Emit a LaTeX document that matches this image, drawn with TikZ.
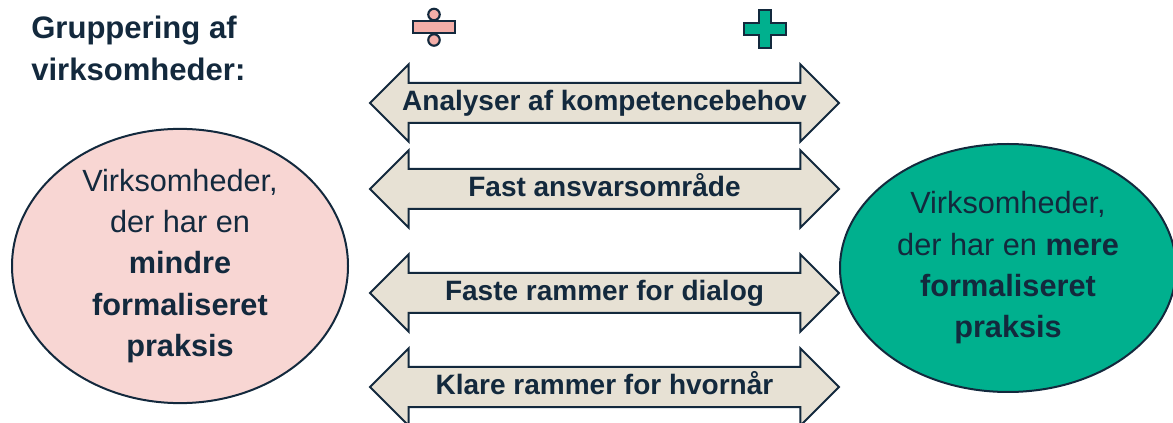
\documentclass[tikz,border=0pt]{standalone}
\usepackage{fontspec}
\setmainfont{Liberation Sans}
\usetikzlibrary{shapes.geometric,shapes.arrows}

\definecolor{marine}{HTML}{13293D}
\definecolor{lyserod}{HTML}{F8D6D3}
\definecolor{groen}{HTML}{00B08E}
\definecolor{sand}{HTML}{E7E1D4}
\definecolor{rosa}{HTML}{F3AEA8}

\tikzset{
	pil/.style={double arrow, draw=marine, line width=1.5pt, fill=sand, text=marine,
		font=\fontsize{21}{25}\selectfont\bfseries, double arrow head extend=14pt,
		minimum height=351.75pt, inner xsep=0pt, inner ysep=5.25pt,
		text height=15pt, text depth=3pt},
	boble/.style={ellipse, draw=marine, line width=1.5pt, inner sep=0pt, align=center,
		text=marine, font=\fontsize{23}{31}\selectfont,
		minimum width=252pt, minimum height=190pt},
	ikon/.style={draw=marine, line width=1.6pt, line join=miter}
}

\begin{document}
\begin{tikzpicture}[x=0.75pt,y=-0.75pt]
	\useasboundingbox (0,0) rectangle (1173,423);

	% overskrift
	\node (titel)[anchor=base west, inner sep=0pt, align=left, text=marine,
		font=\fontsize{23.3}{31.5}\selectfont\bfseries]
	at (31,81){
		Gruppering af \\ virksomheder:
	};

	% mindre / mere
	\draw[ikon, fill=rosa] (413,21) rectangle (455,33);
	\draw[ikon, fill=rosa] (434,14.5) circle[radius=4.3pt];
	\draw[ikon, fill=rosa] (434,40) circle[radius=4.3pt];
	\draw[ikon, fill=groen] (759,10) -- (771,10) -- (771,23) -- (786,23) -- (786,35)
		-- (771,35) -- (771,48) -- (759,48) -- (759,35) -- (744,35) -- (744,23)
		-- (759,23) -- cycle;

	% de to grupper
	\node (venstre)[boble, fill=lyserod] at (180,266){
		Virksomheder, \\ der har en \\ \textbf{mindre} \\ \textbf{formaliseret} \\ \textbf{praksis}
	};

	\node (hoejre)[boble, fill=groen, minimum height=186pt] at (1008,268){
		Virksomheder, \\ der har en \textbf{mere} \\ \textbf{formaliseret} \\ \textbf{praksis}
	};

	% pilene imellem
	\node (p1)[pil] at (604.5,103) {Analyser af kompetencebehov};
	\node (p2)[pil] at (604.5,189) {Fast ansvarsområde};
	\node (p3)[pil] at (604.5,293) {Faste rammer for dialog};
	\node (p4)[pil] at (604.5,387) {Klare rammer for hvornår};
\end{tikzpicture}
\end{document}
